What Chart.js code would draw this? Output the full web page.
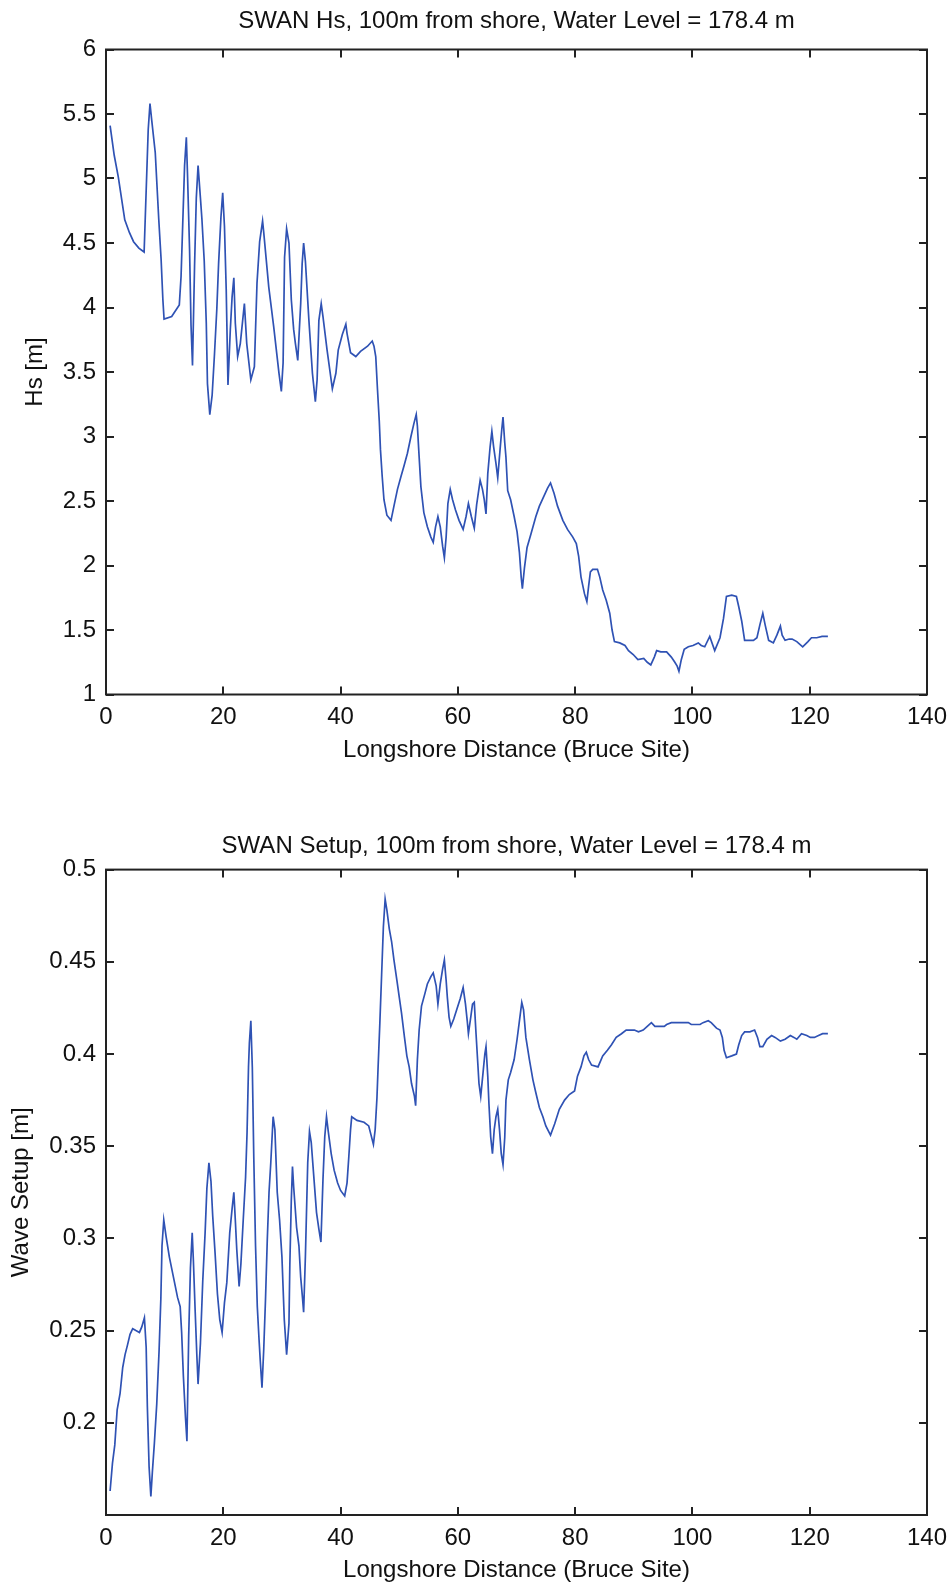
<!DOCTYPE html>
<html>
<head>
<meta charset="utf-8">
<script src="https://cdn.jsdelivr.net/npm/chart.js@4.4.1/dist/chart.umd.min.js"></script>
<style>
  html, body { margin: 0; padding: 0; background: #fff; }
  #wrap { position: relative; width: 948px; height: 1585px; }
  .box { position: absolute; left: 0; width: 948px; }
</style>
</head>
<body>
<div id="wrap">
  <div class="box" style="top:0;height:790px"><canvas id="hsChart" width="948" height="790"></canvas></div>
  <div class="box" style="top:790px;height:795px"><canvas id="setupChart" width="948" height="795"></canvas></div>
</div>
<script>
// tick labels
const xTicks = [0, 20, 40, 60, 80, 100, 120, 140];
const hsTicks = [1, 1.5, 2, 2.5, 3, 3.5, 4, 4.5, 5, 5.5, 6];
const setupTicks = [0.2, 0.25, 0.3, 0.35, 0.4, 0.45, 0.5];

// SWAN Hs
const hsX = [0.7, 1.4, 2.1, 3.2, 4.0, 4.7, 5.6, 6.5, 7.2, 7.5, 7.8, 8.4, 9.0, 9.4, 9.7, 9.9, 11.2, 12.5, 12.8, 13.1, 13.4, 13.7, 13.9,
  14.25, 14.5, 14.75, 15.1, 15.4, 15.7, 16.1, 16.35, 16.75, 17.1, 17.3, 17.7, 18.1, 18.5, 18.9, 19.2, 19.6, 19.9, 20.2, 20.5,
  20.8, 21.2, 21.5, 21.8, 22.05, 22.45, 22.9, 23.6, 24.0, 24.7, 25.3, 25.75, 26.2, 26.7, 26.9, 27.75, 28.6, 29.5, 29.9, 30.2,
  30.45, 30.8, 31.2, 31.6, 32.0, 32.3, 32.7, 33.2, 33.45, 33.7, 34.0, 34.6, 35.2, 35.7, 36.0, 36.3, 36.7, 37.0, 37.7, 38.6,
  39.2, 39.6, 40.3, 40.9, 41.1, 41.7, 42.6, 43.4, 44.6, 45.4, 45.7, 46.0, 46.3, 46.6, 46.8, 47.1, 47.4, 47.9, 48.6, 49.1,
  49.7, 50.3, 50.8, 51.4, 52.0, 52.5, 52.9, 53.1, 53.4, 53.7, 54.2, 54.8, 55.4, 55.8, 56.2, 56.6, 57.0, 57.4, 57.7, 58.0,
  58.3, 58.7, 59.1, 59.6, 60.2, 60.9, 61.4, 61.8, 62.3, 62.8, 63.2, 63.8, 64.2, 64.5, 64.8, 65.1, 65.5, 65.8, 66.1, 66.5,
  66.8, 67.2, 67.5, 67.7, 68.0, 68.2, 68.5, 69.0, 69.6, 70.1, 70.5, 70.8, 71.0, 71.35, 71.8, 72.5, 73.3, 73.9, 74.6, 75.3,
  75.8, 76.4, 77.0, 77.9, 78.7, 79.6, 80.2, 80.6, 81.0, 81.6, 82.0, 82.3, 82.6, 83.0, 83.8, 84.2, 84.7, 85.3, 85.9, 86.3,
  86.7, 87.6, 88.5, 89.1, 89.9, 90.7, 91.7, 92.3, 92.9, 93.5, 93.9, 94.6, 95.6, 96.4, 97.0, 97.4, 97.7, 98.1, 98.6, 99.3,
  100.1, 101.0, 101.5, 102.1, 102.95, 103.8, 104.7, 105.3, 105.8, 106.7, 107.5, 107.9, 108.4, 108.9, 109.5, 110.4, 111.0, 111.5, 112.0, 112.4,
  113.0, 113.8, 114.4, 115.0, 115.3, 115.8, 116.5, 117.0, 117.8, 118.8, 119.7, 120.3, 121.2, 122.1, 123.1];
const hsY = [5.41, 5.18, 5.01, 4.68, 4.58, 4.51, 4.46, 4.43, 5.38, 5.58, 5.45, 5.20, 4.68, 4.37, 4.06, 3.91, 3.93, 4.02, 4.24, 4.67, 5.10, 5.32, 5.03,
  4.45, 3.86, 3.55, 4.32, 4.85, 5.10, 4.85, 4.69, 4.36, 3.88, 3.41, 3.17, 3.32, 3.64, 3.99, 4.34, 4.70, 4.89, 4.63, 4.14,
  3.40, 3.83, 4.08, 4.23, 3.88, 3.62, 3.72, 4.03, 3.72, 3.44, 3.54, 4.19, 4.51, 4.67, 4.58, 4.16, 3.85, 3.49, 3.35, 3.57,
  4.39, 4.61, 4.50, 4.06, 3.83, 3.72, 3.59, 4.03, 4.34, 4.50, 4.36, 3.90, 3.49, 3.27, 3.44, 3.90, 4.03, 3.93, 3.67, 3.37,
  3.49, 3.67, 3.79, 3.87, 3.80, 3.65, 3.62, 3.66, 3.70, 3.74, 3.70, 3.62, 3.36, 3.12, 2.90, 2.69, 2.51, 2.39, 2.35, 2.46,
  2.59, 2.69, 2.77, 2.87, 3.00, 3.10, 3.17, 3.08, 2.84, 2.61, 2.41, 2.30, 2.22, 2.18, 2.30, 2.38, 2.30, 2.15, 2.06, 2.22,
  2.48, 2.59, 2.51, 2.43, 2.35, 2.28, 2.38, 2.48, 2.38, 2.29, 2.47, 2.66, 2.59, 2.51, 2.40, 2.71, 2.92, 3.04, 2.92, 2.79,
  2.68, 2.90, 3.06, 3.15, 2.95, 2.84, 2.58, 2.51, 2.38, 2.26, 2.10, 1.91, 1.82, 1.98, 2.14, 2.25, 2.38, 2.46, 2.53, 2.60,
  2.64, 2.56, 2.46, 2.35, 2.28, 2.22, 2.17, 2.07, 1.91, 1.78, 1.72, 1.84, 1.95, 1.97, 1.97, 1.91, 1.81, 1.73, 1.63, 1.50,
  1.41, 1.40, 1.38, 1.34, 1.31, 1.27, 1.28, 1.25, 1.23, 1.29, 1.34, 1.33, 1.33, 1.29, 1.25, 1.22, 1.18, 1.27, 1.35, 1.37,
  1.38, 1.40, 1.38, 1.37, 1.45, 1.34, 1.44, 1.59, 1.76, 1.77, 1.76, 1.68, 1.57, 1.42, 1.42, 1.42, 1.44, 1.54, 1.63, 1.54,
  1.42, 1.40, 1.46, 1.53, 1.46, 1.42, 1.43, 1.43, 1.41, 1.37, 1.41, 1.44, 1.44, 1.45, 1.45];

// SWAN wave setup
const setupX = [0.7, 1.1, 1.5, 1.9, 2.4, 2.85, 3.25, 3.65, 4.1, 4.55, 5.1, 5.7, 6.1, 6.55, 6.85, 7.05, 7.35, 7.65, 7.9, 8.25,
  8.65, 9.05, 9.35, 9.55, 9.85, 10.25, 10.8, 11.5, 12.2, 12.65, 12.9, 13.2, 13.55, 13.8, 14.1, 14.4, 14.7, 14.9, 15.2, 15.5,
  15.7, 16.1, 16.5, 16.9, 17.2, 17.55, 17.9, 18.2, 18.6, 19.0, 19.4, 19.8, 20.2, 20.6, 21.1, 21.5, 21.8, 22.05, 22.3, 22.7,
  23.0, 23.4, 23.8, 24.05, 24.3, 24.45, 24.7, 24.95, 25.2, 25.5, 25.8, 26.1, 26.3, 26.6, 26.9, 27.2, 27.5, 27.8, 28.1, 28.5,
  28.8, 29.2, 29.6, 30.0, 30.4, 30.8, 31.2, 31.35, 31.6, 31.8, 32.0, 32.5, 32.9, 33.2, 33.5, 33.7, 34.0, 34.4, 34.7, 35.0,
  35.4, 35.9, 36.3, 36.65, 37.0, 37.3, 37.6, 37.9, 38.4, 38.9, 39.5, 40.0, 40.7, 41.1, 41.4, 41.7, 41.9, 42.8, 44.0, 44.8,
  45.2, 45.6, 45.9, 46.2, 46.4, 46.7, 47.0, 47.3, 47.6, 47.9, 48.3, 48.7, 49.1, 49.6, 50.0, 50.4, 50.9, 51.3, 51.7, 52.1,
  52.6, 52.8, 53.1, 53.4, 53.8, 54.4, 54.8, 55.4, 55.8, 56.3, 56.6, 57.0, 57.4, 57.7, 58.0, 58.2, 58.5, 58.8, 59.3, 59.8,
  60.4, 60.9, 61.3, 61.6, 61.8, 62.2, 62.5, 62.8, 63.1, 63.4, 63.6, 63.9, 64.3, 64.6, 64.8, 65.1, 65.3, 65.6, 65.9, 66.2,
  66.5, 66.8, 67.1, 67.4, 67.7, 68.0, 68.2, 68.6, 69.0, 69.6, 70.1, 70.5, 70.9, 71.2, 71.6, 72.2, 72.8, 73.3, 73.9, 74.5,
  75.0, 75.8, 76.5, 77.3, 78.2, 79.0, 79.9, 80.4, 81.0, 81.5, 81.9, 82.3, 82.8, 83.9, 84.7, 85.5, 86.2, 87.0, 87.9, 88.7,
  90.1, 90.8, 91.6, 92.3, 93.0, 93.6, 95.2, 95.6, 96.4, 99.3, 99.8, 101.3, 101.8, 102.7, 103.2, 104.1, 104.7, 105.1, 105.4, 105.8,
  106.7, 107.5, 107.9, 108.4, 108.9, 109.8, 110.6, 111.1, 111.5, 112.0, 112.7, 113.5, 114.1, 115.0, 115.8, 116.7, 117.3, 117.8, 118.6, 119.5,
  120.1, 120.8, 121.5, 122.2, 123.1];
const setupY = [0.163, 0.178, 0.188, 0.207, 0.216, 0.230, 0.237, 0.242, 0.248, 0.251, 0.250, 0.249, 0.252, 0.257, 0.241, 0.209, 0.176, 0.160, 0.173, 0.189,
  0.210, 0.239, 0.267, 0.296, 0.310, 0.301, 0.290, 0.279, 0.268, 0.263, 0.249, 0.225, 0.203, 0.190, 0.247, 0.284, 0.303, 0.288, 0.261, 0.236,
  0.221, 0.243, 0.277, 0.303, 0.327, 0.341, 0.331, 0.312, 0.292, 0.270, 0.256, 0.249, 0.265, 0.276, 0.303, 0.316, 0.325, 0.310, 0.294, 0.274,
  0.286, 0.310, 0.333, 0.357, 0.393, 0.406, 0.418, 0.393, 0.344, 0.296, 0.263, 0.245, 0.234, 0.219, 0.240, 0.267, 0.299, 0.325, 0.341, 0.366,
  0.359, 0.325, 0.310, 0.290, 0.256, 0.237, 0.254, 0.286, 0.321, 0.339, 0.328, 0.306, 0.296, 0.279, 0.268, 0.260, 0.290, 0.341, 0.358, 0.352,
  0.335, 0.314, 0.305, 0.298, 0.332, 0.355, 0.366, 0.358, 0.346, 0.337, 0.330, 0.326, 0.323, 0.330, 0.344, 0.359, 0.366, 0.364, 0.363, 0.361,
  0.356, 0.351, 0.359, 0.376, 0.393, 0.417, 0.443, 0.469, 0.484, 0.478, 0.468, 0.461, 0.451, 0.440, 0.431, 0.422, 0.409, 0.399, 0.393, 0.384,
  0.377, 0.372, 0.397, 0.413, 0.426, 0.433, 0.438, 0.442, 0.444, 0.437, 0.427, 0.438, 0.446, 0.451, 0.440, 0.431, 0.420, 0.415, 0.419, 0.424,
  0.430, 0.436, 0.427, 0.418, 0.411, 0.420, 0.427, 0.428, 0.411, 0.395, 0.384, 0.377, 0.390, 0.400, 0.404, 0.388, 0.373, 0.355, 0.346, 0.359,
  0.366, 0.370, 0.359, 0.346, 0.340, 0.355, 0.375, 0.386, 0.390, 0.397, 0.408, 0.418, 0.428, 0.424, 0.409, 0.397, 0.386, 0.379, 0.371, 0.366,
  0.361, 0.356, 0.362, 0.370, 0.375, 0.378, 0.380, 0.388, 0.393, 0.399, 0.401, 0.397, 0.394, 0.393, 0.399, 0.402, 0.405, 0.409, 0.411, 0.413,
  0.413, 0.412, 0.413, 0.415, 0.417, 0.415, 0.415, 0.416, 0.417, 0.417, 0.416, 0.416, 0.417, 0.418, 0.417, 0.414, 0.413, 0.409, 0.402, 0.398,
  0.399, 0.400, 0.405, 0.410, 0.412, 0.412, 0.413, 0.409, 0.404, 0.404, 0.408, 0.410, 0.409, 0.407, 0.408, 0.410, 0.409, 0.408, 0.411, 0.410,
  0.409, 0.409, 0.410, 0.411, 0.411];

const FONT = { family: "'Liberation Sans', Arial, sans-serif", size: 24, weight: 'normal' };
const TEXT = '#111';
const LINE = '#2f52b4';

// MATLAB style box with inward ticks on all four sides
const framePlugin = {
  id: 'frame',
  afterDatasetsDraw(chart) {
    const { ctx, chartArea: a, scales: { x, y } } = chart;
    const len = 8;
    ctx.save();
    ctx.strokeStyle = '#222';
    ctx.lineWidth = 2;
    ctx.beginPath();
    x.ticks.forEach(t => {
      const px = Math.round(x.getPixelForValue(t.value));
      ctx.moveTo(px, a.bottom); ctx.lineTo(px, a.bottom - len);
      ctx.moveTo(px, a.top); ctx.lineTo(px, a.top + len);
    });
    y.ticks.forEach(t => {
      const py = Math.round(y.getPixelForValue(t.value));
      ctx.moveTo(a.left, py); ctx.lineTo(a.left + len, py);
      ctx.moveTo(a.right, py); ctx.lineTo(a.right - len, py);
    });
    ctx.stroke();
    ctx.strokeRect(a.left, a.top, a.right - a.left, a.bottom - a.top);
    ctx.restore();
  }
};

function makeChart(id, cfg) {
  const pts = cfg.xs.map((x, i) => ({ x: x, y: cfg.ys[i] }));
  return new Chart(document.getElementById(id), {
    type: 'line',
    data: {
      datasets: [{
        data: pts,
        borderColor: LINE,
        borderWidth: 1.7,
        pointRadius: 0,
        tension: 0,
        fill: false
      }]
    },
    options: {
      responsive: false,
      animation: false,
      layout: { padding: { left: 0, right: 21, top: 0, bottom: 0 } },
      plugins: {
        legend: { display: false },
        tooltip: { enabled: false },
        title: {
          display: true,
          text: cfg.title,
          fullSize: false,
          color: TEXT,
          font: FONT,
          padding: cfg.titlePad
        }
      },
      scales: {
        x: {
          type: 'linear',
          min: 0,
          max: 140,
          afterBuildTicks: s => { s.ticks = xTicks.map(v => ({ value: v })); },
          afterFit: s => { s.height = cfg.xHeight; s.paddingLeft = 0; s.paddingRight = 0; },
          grid: { display: false, drawTicks: false },
          border: { display: false },
          ticks: {
            autoSkip: false, maxRotation: 0, padding: 8.6,
            color: TEXT, font: FONT,
            callback: v => String(v)
          },
          title: {
            display: true, text: 'Longshore Distance (Bruce Site)',
            color: TEXT, font: FONT, padding: { top: 0, bottom: cfg.xTitleBottom }
          }
        },
        y: {
          type: 'linear',
          min: cfg.yMin,
          max: cfg.yMax,
          afterBuildTicks: s => { s.ticks = cfg.yTicks.map(v => ({ value: v })); },
          afterFit: s => { s.width = 106; },
          grid: { display: false, drawTicks: false },
          border: { display: false },
          ticks: {
            autoSkip: false, padding: 10,
            color: TEXT, font: FONT,
            callback: v => String(v)
          },
          title: {
            display: true, text: cfg.yTitle,
            color: TEXT, font: FONT, padding: { top: cfg.yTitleTop, bottom: 0 }
          }
        }
      }
    },
    plugins: [framePlugin]
  });
}

makeChart('hsChart', {
  xs: hsX, ys: hsY,
  title: 'SWAN Hs, 100m from shore, Water Level = 178.4 m',
  titlePad: { top: 6.6, bottom: 14.1 },
  yMin: 1, yMax: 6, yTicks: hsTicks,
  yTitle: 'Hs [m]', yTitleTop: 21,
  xHeight: 95.5, xTitleBottom: 25.6
});

makeChart('setupChart', {
  xs: setupX, ys: setupY,
  title: 'SWAN Setup, 100m from shore, Water Level = 178.4 m',
  titlePad: { top: 42, bottom: 8.8 },
  yMin: 0.15, yMax: 0.5, yTicks: setupTicks,
  yTitle: 'Wave Setup [m]', yTitleTop: 6.6,
  xHeight: 70, xTitleBottom: 0
});
</script>
</body>
</html>
